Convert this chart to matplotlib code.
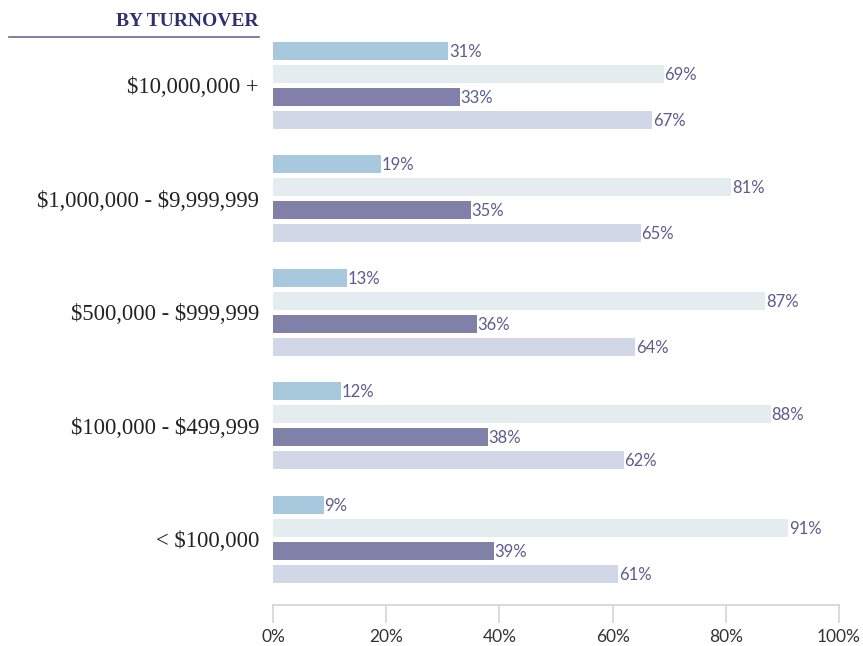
import matplotlib
matplotlib.use("Agg")
import matplotlib.pyplot as plt
import numpy as np

plt.rcParams["text.parse_math"] = False

categories = ["$10,000,000 +", "$1,000,000 - $9,999,999", "$500,000 - $999,999",
              "$100,000 - $499,999", "< $100,000"]
series_a = [31, 19, 13, 12, 9]
series_b = [69, 81, 87, 88, 91]
series_c = [33, 35, 36, 38, 39]
series_d = [67, 65, 64, 62, 61]
colors = ["#a8c8de", "#e4ecf0", "#8080a8", "#d2d7e8"]
xticks = [0, 20, 40, 60, 80, 100]
title = "BY TURNOVER"

W, H = 863, 646
fig = plt.figure(figsize=(W/100, H/100), dpi=100)
ax_left, ax_right = 273, 839
ax_top, ax_bot = 30, 605
ax = fig.add_axes([ax_left/W, 1-ax_bot/H, (ax_right-ax_left)/W, (ax_bot-ax_top)/H])

spacing = 113.5
bh = 18/spacing
off = 23/spacing
offsets = [-1.5*off, -0.5*off, 0.5*off, 1.5*off]
y = np.arange(len(categories))
for s, vals in enumerate([series_a, series_b, series_c, series_d]):
    ax.barh(y + offsets[s], vals, height=bh, color=colors[s], linewidth=0)
    for yi, v in zip(y, vals):
        ax.text(v + 0.1, yi + offsets[s] + 0.01, f"{v}%", va="center", ha="left",
                fontsize=12, color="#5c5c90", family="Lato")

ax.set_xlim(0, 100)
ax.set_ylim((ax_bot-85)/spacing, -(85-ax_top)/spacing)
for sp in ["top", "right", "left"]:
    ax.spines[sp].set_visible(False)
ax.spines["bottom"].set_color("#d4d4d0")
ax.spines["bottom"].set_linewidth(1.2)
ax.set_xticks(xticks)
ax.set_xticklabels([f"{t}%" for t in xticks], family="Lato", fontsize=12.5, color="#333333")
ax.tick_params(axis="x", direction="out", length=13, width=1.2, color="#d4d4d0", pad=4)
ax.set_yticks(y)
ax.set_yticklabels(categories, family="Liberation Serif", fontsize=16.3, color="#222222")
ax.tick_params(axis="y", length=0, pad=10)

fig.text(258/W, 1-21/H, title, ha="right", va="center", fontsize=14,
         fontweight="bold", family="Liberation Serif", color="#2e3070")
fig.add_artist(plt.Line2D([9/W, 259/W], [1-37/H, 1-37/H], color="#6a6a98", lw=1.2))

fig.savefig("out.png", dpi=100)
